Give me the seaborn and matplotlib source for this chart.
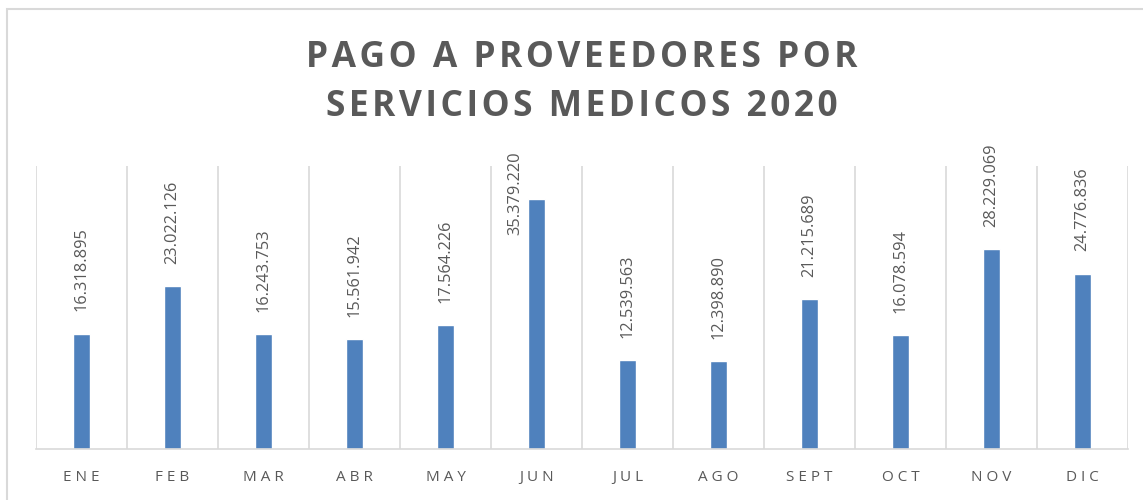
import seaborn as sns
import pandas as pd
import matplotlib.pyplot as plt
from matplotlib.patches import Rectangle

# Monthly payments to suppliers of medical services, 2020
meses = ['ENE', 'FEB', 'MAR', 'ABR', 'MAY', 'JUN', 'JUL', 'AGO', 'SEPT', 'OCT', 'NOV', 'DIC']
pagos = [16318895, 23022126, 16243753, 15561942, 17564226, 35379220,
         12539563, 12398890, 21215689, 16078594, 28229069, 24776836]

data = pd.DataFrame({'Mes': meses, 'Pago': pagos})

sns.set_style("white")
plt.rcParams['font.family'] = ['Open Sans', 'DejaVu Sans']

gris = '#595959'
fig = plt.figure(figsize=(11.43, 5), dpi=100)
ax = fig.add_axes([36 / 1143, 51 / 500, 1092 / 1143, 283 / 500])

sns.barplot(x='Mes', y='Pago', data=data, order=meses, color='#4F81BD',
            width=0.187, saturation=1, ax=ax)

ymax = 40e6
ax.set_ylim(0, ymax)
ax.set_xlim(-0.5, len(meses) - 0.5)

# vertical lines between categories
ax.set_xticks([i - 0.5 for i in range(len(meses) + 1)], minor=True)
ax.grid(True, which='minor', axis='x', color='#d9d9d9', linewidth=1.2)
ax.grid(False, which='major')
ax.set_yticks([])
for s in ['left', 'right', 'top']:
    ax.spines[s].set_visible(False)
ax.spines['bottom'].set_color('#d9d9d9')
ax.spines['bottom'].set_linewidth(1.2)

ax.set_xticks(range(len(meses)))
ax.set_xticklabels(['\u2009\u200a'.join(m) for m in meses], color=gris, fontsize=11)
ax.tick_params(axis='x', which='both', length=0, pad=15)
ax.set_xlabel('')
ax.set_ylabel('')

# rotated value labels
for i, v in enumerate(pagos):
    txt = f"{v:,}".replace(',', '.')
    if v > 0.85 * ymax:
        ax.annotate(txt, (i, v), xytext=(-15, 4), textcoords='offset points',
                    rotation=90, ha='center', va='center', color=gris, fontsize=11.8)
    else:
        ax.annotate(txt, (i, v), xytext=(0, 16), textcoords='offset points',
                    rotation=90, ha='center', va='bottom', color=gris, fontsize=11.8)

fig.text(582 / 1143, 0.835, '\u200a'.join('PAGO A PROVEEDORES POR') + '\n'
         + '\u200a'.join('SERVICIOS MEDICOS 2020'),
         ha='center', va='center', fontsize=25.5, fontweight='bold', color=gris,
         linespacing=1.45)

# chart border
fig.patches.append(Rectangle((7 / 1143, -0.1), 1.2, 0.982 + 0.1, transform=fig.transFigure,
                             fill=False, edgecolor='#d9d9d9', linewidth=1.5))

fig.savefig('out.png', dpi=100)
